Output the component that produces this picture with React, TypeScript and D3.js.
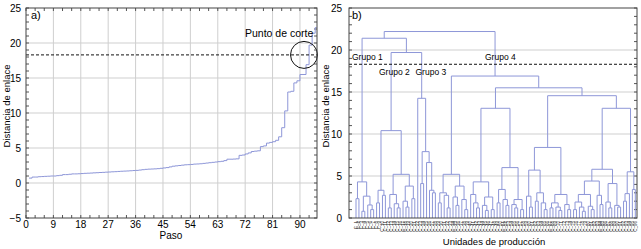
import React, { useRef, useEffect } from 'react';
import * as d3 from 'd3';

// a) agglomeration schedule: linkage distance at each step (steps 1..95)
const pasoValues = [
  0.70, 0.85, 0.85, 0.90, 0.92, 0.95, 0.97, 1.00, 1.00, 1.05,
  1.10, 1.20, 1.20, 1.25, 1.30, 1.30, 1.32, 1.35, 1.38, 1.40,
  1.42, 1.45, 1.47, 1.50, 1.52, 1.55, 1.57, 1.60, 1.62, 1.65,
  1.68, 1.70, 1.72, 1.75, 1.78, 1.80, 1.85, 1.90, 1.95, 1.98,
  2.00, 2.02, 2.05, 2.10, 2.15, 2.20, 2.30, 2.40, 2.45, 2.50,
  2.55, 2.60, 2.62, 2.65, 2.70, 2.72, 2.75, 2.80, 2.85, 2.90,
  2.95, 3.00, 3.05, 3.10, 3.20, 3.40, 3.40, 3.42, 3.45, 3.95,
  4.00, 4.15, 4.30, 4.50, 4.55, 4.60, 5.20, 5.30, 5.70, 5.80,
  5.90, 6.10, 6.60, 7.90, 10.30, 13.00, 13.10, 14.30, 14.60, 15.50,
  15.50, 16.90, 19.70, 21.40, 22.20,
];
const pasoTicks = [0, 9, 18, 27, 36, 45, 54, 63, 72, 81, 90];
const distTicksA = [-5, 0, 5, 10, 15, 20, 25];
const distTicksB = [0, 5, 10, 15, 20, 25];
const cutHeight = 18.3;

// b) dendrogram: a node is [height, left, right]; 0 = one production unit
type Node = 0 | [number, Node, Node];
const grupo1: Node = [4.3, [2.3, 0, 0], [2.6, [0.8, 0, 0], [1.55, 0, [1.0, 0, 0]]]];
const grupo2: Node = [10.4,
  [3.3, [1.8, 0, 0], [2.7, 0, 0]],
  [5.2, [2.8, [1.2, 0, 0], [1.7, 0, [1.2, 0, 0]]], [3.8, [2.0, 0, [1.3, 0, 0]], [2.3, 0, 0]]]];
const grupo3: Node = [14.25, 0, [7.9, [4.1, 0, 0], [6.6, 0, [3.3, 0, [3.0, 0, 0]]]]];
const g4a: Node = [5.2, [3.0, [1.8, 0, 0], [2.7, 0, [1.2, 0, 0]]], [3.8, [2.5, 0, [1.5, 0, 0]], [2.2, 0, [1.0, 0, 0]]]];
const g4b1a: Node = [4.3, [2.8, 0, [1.8, 0, [1.2, 0, 0]]], [2.5, [1.5, 0, [0.9, 0, 0]], [1.0, 0, 0]]];
const g4b1b: Node = [6.0, [3.4, [1.8, 0, 0], [2.2, 0, [1.5, 0, 0]]], [2.2, [1.6, 0, [1.2, 0, 0]], [1.0, 0, 0]]];
const g4b2a: Node = [8.4,
  [5.7, [2.6, 0, [1.3, 0, 0]], [3.0, [2.0, 0, 0], [1.8, 0, [1.0, 0, 0]]]],
  [2.8, [1.8, [1.2, 0, 0], [1.3, 0, [0.9, 0, 0]]], [1.6, 0, [1.0, 0, 0]]]];
const g4b2b1: Node = [5.8,
  [4.4, [2.8, [1.9, [1.0, 0, 0], [1.3, 0, [0.8, 0, 0]]], [1.4, 0, [1.0, 0, 0]]], [2.7, 0, [1.6, 0, 0]]],
  [4.1, [1.9, 0, [1.2, 0, 0]], [1.5, 0, [1.3, 0, 0]]]];
const g4b2b2: Node = [5.5, [2.9, [2.0, 0, 0], 0], [3.4, 0, 0]];
const grupo4: Node = [16.9, g4a, [15.5, [13.06, g4b1a, g4b1b], [14.56, g4b2a, [13.06, g4b2b1, g4b2b2]]]];
const dendroRoot: Node = [22.2, [21.4, grupo1, [19.7, grupo2, grupo3]], grupo4];

const groupLabels = [
  { text: 'Grupo 1', x: 352, y: 60 },
  { text: 'Grupo 2', x: 379, y: 75 },
  { text: 'Grupo 3', x: 415.5, y: 75 },
  { text: 'Grupo 4', x: 485, y: 60 },
];

const LINE = '#8e97d8';
const GRID = '#cfcfcf';
const FONT = '"Liberation Sans", Arial, sans-serif';

interface TNode { h: number; children?: TNode[] }
const toTree = (n: Node): TNode => (n === 0 ? { h: 0 } : { h: n[0], children: [toTree(n[1]), toTree(n[2])] });

const App: React.FC = () => {
  const ref = useRef<SVGSVGElement>(null);

  useEffect(() => {
    const svg = d3.select(ref.current);
    svg.selectAll('*').remove();
    svg.attr('width', 641).attr('height', 249).style('font-family', FONT);

    // ---------- a) ----------
    const ma = { left: 26, right: 317, top: 8, bottom: 218 };
    const xa = d3.scaleLinear().domain([0, 95.6]).range([ma.left, ma.right]);
    const ya = d3.scaleLinear().domain([-5, 25]).range([ma.bottom, ma.top]);
    const ga = svg.append('g');

    ga.selectAll('line.vg').data(pasoTicks.slice(1)).join('line')
      .attr('x1', d => xa(d)).attr('x2', d => xa(d))
      .attr('y1', ma.top).attr('y2', ma.bottom)
      .attr('stroke', GRID).attr('stroke-width', 1);
    ga.selectAll('line.hg').data(distTicksA.slice(1, -1)).join('line')
      .attr('x1', ma.left).attr('x2', ma.right)
      .attr('y1', d => ya(d)).attr('y2', d => ya(d))
      .attr('stroke', GRID).attr('stroke-width', 1);

    // minor ticks
    const aMinorY = d3.range(-5, 25.01, 1);
    const aMinorX = d3.range(0, 95, 3);
    ga.selectAll('line.ty').data(aMinorY).join('line')
      .attr('x1', ma.left).attr('x2', ma.left + 3)
      .attr('y1', d => ya(d)).attr('y2', d => ya(d)).attr('stroke', '#555');
    ga.selectAll('line.ty2').data(aMinorY).join('line')
      .attr('x1', ma.right).attr('x2', ma.right - 3)
      .attr('y1', d => ya(d)).attr('y2', d => ya(d)).attr('stroke', '#555');
    ga.selectAll('line.tx').data(aMinorX).join('line')
      .attr('x1', d => xa(d)).attr('x2', d => xa(d))
      .attr('y1', ma.bottom).attr('y2', ma.bottom - 3).attr('stroke', '#555');
    ga.selectAll('line.tx2').data(aMinorX).join('line')
      .attr('x1', d => xa(d)).attr('x2', d => xa(d))
      .attr('y1', ma.top).attr('y2', ma.top + 3).attr('stroke', '#555');

    const pts: [number, number][] = pasoValues.map((v, i) => [i + 1, v]);
    pts.push([95.5, pasoValues[pasoValues.length - 1]]);
    ga.append('path').datum(pts)
      .attr('fill', 'none').attr('stroke', LINE).attr('stroke-width', 1)
      .attr('d', d3.line<[number, number]>().curve(d3.curveStepAfter).x(d => xa(d[0])).y(d => ya(d[1])));

    ga.append('line')
      .attr('x1', ma.left).attr('x2', ma.right)
      .attr('y1', ya(cutHeight)).attr('y2', ya(cutHeight))
      .attr('stroke', '#111').attr('stroke-dasharray', '3,2');

    ga.append('circle').attr('cx', 304).attr('cy', ya(cutHeight)).attr('r', 13.5)
      .attr('fill', 'none').attr('stroke', '#111');
    ga.append('text').attr('x', 245).attr('y', 37).attr('font-size', 10.5).text('Punto de corte');

    ga.append('rect').attr('x', ma.left).attr('y', ma.top)
      .attr('width', ma.right - ma.left).attr('height', ma.bottom - ma.top)
      .attr('fill', 'none').attr('stroke', '#444');

    ga.selectAll('text.yl').data(distTicksA).join('text')
      .attr('x', 21).attr('y', d => ya(d)).attr('dy', '0.35em')
      .attr('text-anchor', 'end').attr('font-size', 10)
      .text(d => (d < 0 ? `\u2212${-d}` : `${d}`));
    ga.selectAll('text.xl').data(pasoTicks).join('text')
      .attr('x', d => xa(d)).attr('y', 228)
      .attr('text-anchor', 'middle').attr('font-size', 10)
      .text(d => `${d}`);
    ga.append('text').attr('x', 171).attr('y', 239).attr('text-anchor', 'middle')
      .attr('font-size', 10).text('Paso');
    ga.append('text').attr('transform', 'translate(10,106) rotate(-90)')
      .attr('text-anchor', 'middle').attr('font-size', 9.5).text('Distancia de enlace');
    ga.append('text').attr('x', 31).attr('y', 19).attr('font-size', 11).text('a)');

    // ---------- b) ----------
    const mb = { left: 349, right: 637, top: 8, bottom: 218 };
    const yb = d3.scaleLinear().domain([0, 25]).range([mb.bottom, mb.top]);
    const gb = svg.append('g');

    gb.selectAll('line.hg').data(distTicksB.slice(1, -1)).join('line')
      .attr('x1', mb.left).attr('x2', mb.right)
      .attr('y1', d => yb(d)).attr('y2', d => yb(d))
      .attr('stroke', GRID).attr('stroke-width', 1);
    const bMinorY = d3.range(0, 25.01, 1);
    gb.selectAll('line.ty').data(bMinorY).join('line')
      .attr('x1', mb.left).attr('x2', mb.left + 3)
      .attr('y1', d => yb(d)).attr('y2', d => yb(d)).attr('stroke', '#555');
    gb.selectAll('line.ty2').data(bMinorY).join('line')
      .attr('x1', mb.right).attr('x2', mb.right - 3)
      .attr('y1', d => yb(d)).attr('y2', d => yb(d)).attr('stroke', '#555');

    const root = d3.hierarchy(toTree(dendroRoot));
    const leaves = root.leaves();
    const xb = d3.scalePoint<number>().domain(d3.range(leaves.length)).range([356, 635.3]);
    const xpos = new Map<any, number>();
    leaves.forEach((l, i) => xpos.set(l, xb(i)!));
    root.eachAfter(n => {
      if (n.children) xpos.set(n, d3.mean(n.children, c => xpos.get(c)!)!);
    });

    const internal = root.descendants().filter(n => n.children);
    gb.selectAll('path.link').data(internal).join('path')
      .attr('fill', 'none').attr('stroke', LINE).attr('stroke-width', 1)
      .attr('d', n => {
        const [a, b] = n.children!;
        return `M${xpos.get(a)},${yb(a.data.h)}V${yb(n.data.h)}H${xpos.get(b)}V${yb(b.data.h)}`;
      });

    gb.append('line')
      .attr('x1', mb.left).attr('x2', mb.right)
      .attr('y1', yb(cutHeight)).attr('y2', yb(cutHeight))
      .attr('stroke', '#111').attr('stroke-dasharray', '3,2');

    gb.append('rect').attr('x', mb.left).attr('y', mb.top)
      .attr('width', mb.right - mb.left).attr('height', mb.bottom - mb.top)
      .attr('fill', 'none').attr('stroke', '#444');

    gb.selectAll('text.gl').data(groupLabels).join('text')
      .attr('x', d => d.x).attr('y', d => d.y).attr('font-size', 8.5).text(d => d.text);

    const unitLabels = leaves.map((_, i) => `C_${i + 1}`);
    gb.selectAll('text.leaf').data(unitLabels).join('text')
      .attr('transform', (d, i) => `translate(${xb(i)! + 1.5},${mb.bottom + 3}) rotate(-90)`)
      .attr('text-anchor', 'end').attr('font-size', 4.5).attr('fill', '#333')
      .text(d => d);

    gb.selectAll('text.yl').data(distTicksB).join('text')
      .attr('x', 342).attr('y', d => yb(d)).attr('dy', '0.35em')
      .attr('text-anchor', 'end').attr('font-size', 10).text(d => `${d}`);
    gb.append('text').attr('x', 494).attr('y', 245).attr('text-anchor', 'middle')
      .attr('font-size', 9.5).text('Unidades de producción');
    gb.append('text').attr('transform', 'translate(329,106) rotate(-90)')
      .attr('text-anchor', 'middle').attr('font-size', 9.5).text('Distancia de enlace');
    gb.append('text').attr('x', 352).attr('y', 19).attr('font-size', 11).text('b)');
  }, []);

  return <svg ref={ref} style={{ position: 'absolute', left: 0, top: 0 }}></svg>;
};

export default App;
